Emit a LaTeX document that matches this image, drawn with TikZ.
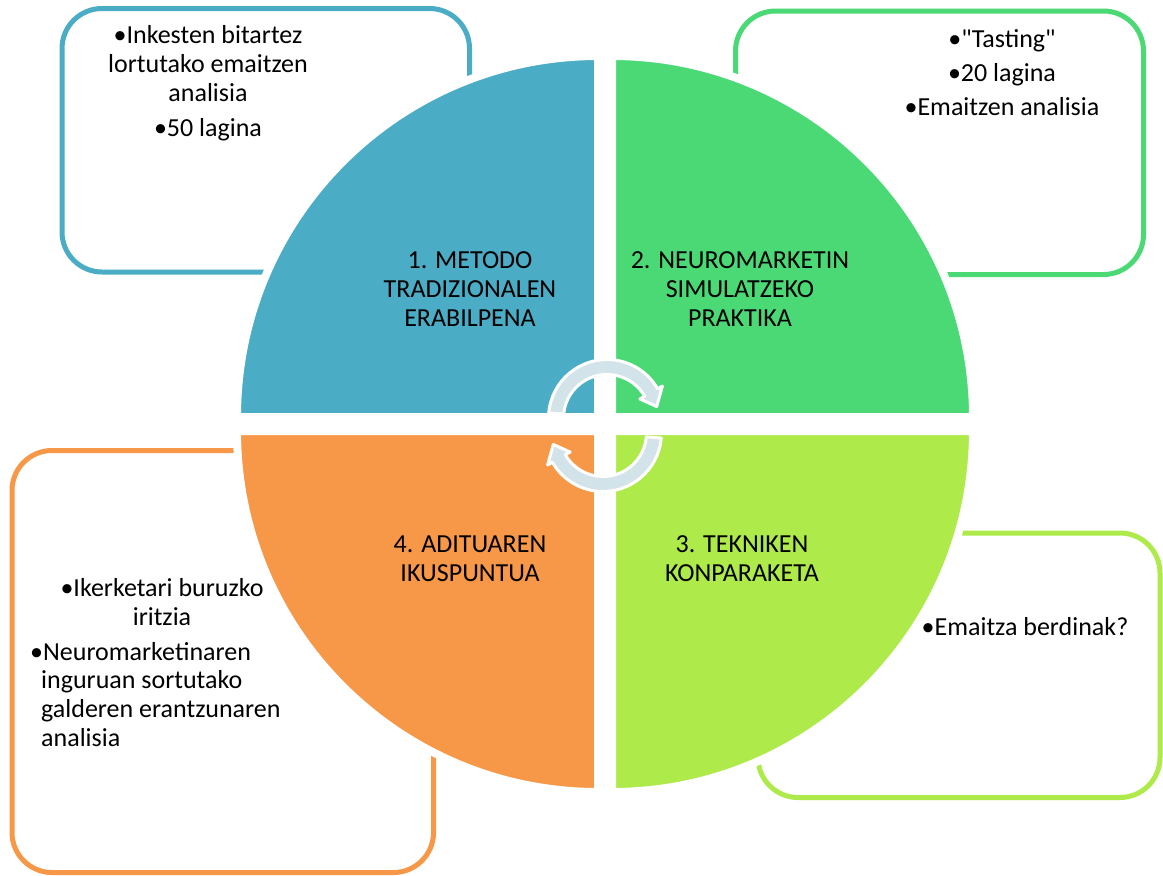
\documentclass[tikz,border=0pt]{standalone}
\usepackage{fontspec}
\setmainfont{Carlito}
\newfontfamily\plainfont{Carlito}
\definecolor{qblue}{RGB}{75,172,198}
\definecolor{qgreen}{RGB}{75,217,118}
\definecolor{qlime}{RGB}{173,234,74}
\definecolor{qorange}{RGB}{247,152,72}
\definecolor{arrowfill}{RGB}{211,227,234}
\begin{document}
\begin{tikzpicture}[x=1pt,y=1pt]
\tikzset{
  infobox/.style={line width=5pt, rounded corners=40pt},
  quad/.style={draw=white, line width=8pt},
  lbl/.style={font=\fontsize{26}{29}\selectfont, align=center, inner sep=0pt, anchor=base},
  lblleft/.style={font=\fontsize{26}{29}\selectfont, align=left, inner sep=0pt, anchor=base west},
  arrowshape/.style={fill=arrowfill, draw=white, line width=3pt, line join=round},
  cyclearrow/.pic={
    \filldraw[arrowshape] (175:58.5) arc[start angle=175, end angle=30, radius=58.5]
      -- (30:64) -- (13:51) -- (30:38) -- (30:43.5)
      arc[start angle=30, end angle=175, radius=43.5] -- cycle;
  }
}
\useasboundingbox (0,0) rectangle (1163,-876);
\fill[white] (0,0) rectangle (1163,-876);

% outer boxes
\draw[infobox, draw=qblue]   (62,-8.5)   rectangle (469.5,-272);
\draw[infobox, draw=qgreen]  (735.5,-11) rectangle (1143.5,-274.5);
\draw[infobox, draw=qlime]   (758,-533)  rectangle (1160,-797.5);
\draw[infobox, draw=qorange] (12,-450.5) rectangle (433.5,-872.5);

% quadrants
\filldraw[quad, fill=qblue]   (598,-417) -- ++(-361,0) arc[start angle=180, end angle=90, radius=361] -- cycle;
\filldraw[quad, fill=qgreen]  (612,-417) -- ++(0,361) arc[start angle=90, end angle=0, radius=361] -- cycle;
\filldraw[quad, fill=qlime]   (612,-431) -- ++(361,0) arc[start angle=0, end angle=-90, radius=361] -- cycle;
\filldraw[quad, fill=qorange] (598,-431) -- ++(0,-361) arc[start angle=270, end angle=180, radius=361] -- cycle;

% quadrant labels (anchored at the baseline of the last line)
\node[lbl] (q1) at (470,-326) {1. METODO\\TRADIZIONALEN\\ERABILPENA};
\node[lbl] (q2) at (740,-326) {2. NEUROMARKETIN\\SIMULATZEKO\\PRAKTIKA};
\node[lbl] (q3) at (742,-581.5) {3. TEKNIKEN\\KONPARAKETA};
\node[lbl] (q4) at (470,-581.5) {4. ADITUAREN\\IKUSPUNTUA};

% box texts
\node[lbl] (t1) at (208,-136) {•Inkesten bitartez\\lortutako emaitzen\\analisia\\[6pt]•50 lagina};
\node[lbl, font=\fontsize{26}{29}\plainfont] (t2) at (1002,-115) {•"Tasting"\\[5pt]•20 lagina\\[5pt]•Emaitzen analisia};
\node[lbl] (t3) at (1025,-635) {•Emaitza berdinak?};
\node[lbl] (t4a) at (162,-625) {•Ikerketari buruzko\\iritzia};
\node[lblleft] (t4b) at (30,-660) {•Neuromarketinaren};
\node[lblleft] (t4c) at (41,-746.5) {inguruan sortutako\\galderen erantzunaren\\analisia};

% cycle arrows
\pic at (607,-418) {cyclearrow};
\pic[rotate=180] at (603,-433) {cyclearrow};
\end{tikzpicture}
\end{document}
